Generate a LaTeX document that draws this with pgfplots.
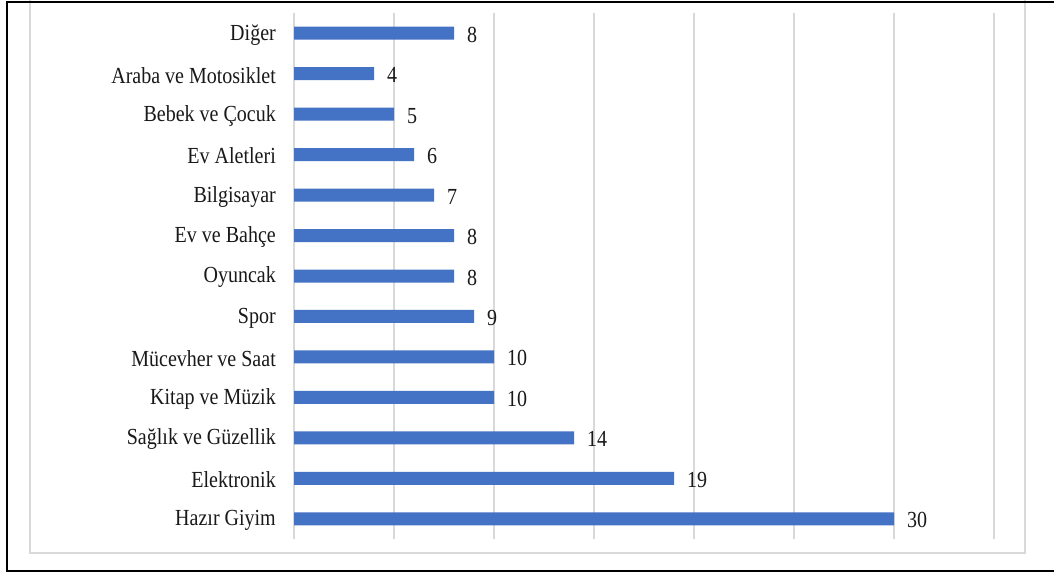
\documentclass[border=0pt]{standalone}
\usepackage{fontspec}
\setmainfont{Liberation Serif}[FakeStretch=0.87]
\usepackage{pgfplots}
\pgfplotsset{compat=1.18}
\definecolor{barblue}{HTML}{4472C4}
\definecolor{gridgray}{HTML}{D9D9D9}
\begin{document}
\begin{tikzpicture}[x=1pt,y=1pt]
\path[use as bounding box] (0,0) rectangle (1054,574);
\fill[white] (0,0) rectangle (1054,574);
\draw[gridgray, line width=1.5pt] (30,574) -- (30,21) -- (1025,21) -- (1025,574);
\begin{axis}[
  at={(294pt,35pt)}, anchor=south west,
  scale only axis, width=700pt, height=526pt,
  xbar, bar width=13pt,
  xmin=0, xmax=35, ymin=-0.5, ymax=12.5,
  axis line style={draw=none},
  xtick={0,5,...,35}, xticklabels={},
  xmajorgrids, grid style={gridgray, line width=1.5pt},
  major tick length=0pt,
  ytick={0,...,12},
  yticklabels={Hazır Giyim, Elektronik, Sağlık ve Güzellik, Kitap ve Müzik, Mücevher ve Saat, Spor, Oyuncak, Ev ve Bahçe, Bilgisayar, Ev Aletleri, Bebek ve Çocuk, Araba ve Motosiklet, Diğer},
  yticklabel style={font=\fontsize{23}{27}\selectfont, text=black!90, inner sep=0pt, anchor=east, xshift=-18pt, yshift=-1.5pt},
  nodes near coords,
  nodes near coords style={font=\fontsize{23}{27}\selectfont, text=black!90, anchor=west, inner sep=0pt, xshift=13pt, yshift=-1.5pt},
  point meta=x,
  every node near coord/.append style={/pgf/number format/assume math mode=true},
]
\addplot[draw=none, fill=barblue] coordinates {
(30,0) (19,1) (14,2) (10,3) (10,4) (9,5) (8,6) (8,7) (7,8) (6,9) (5,10) (4,11) (8,12)
};
\end{axis}
\draw[black, line width=2.5pt] (1054,572) -- (7,572) -- (7,3) -- (1054,3);
\end{tikzpicture}
\end{document}
